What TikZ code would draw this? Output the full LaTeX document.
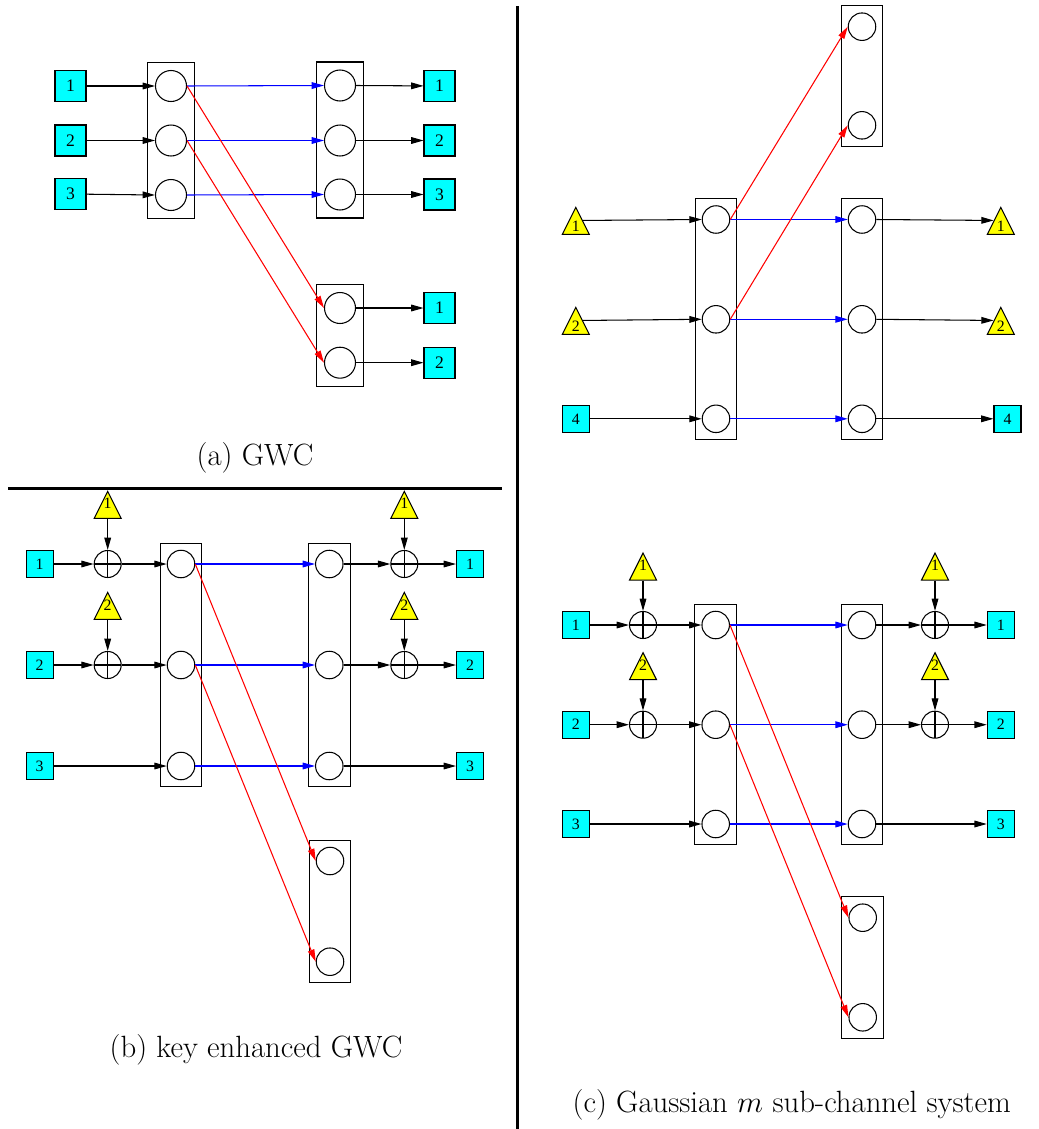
\documentclass[tikz,border=0pt]{standalone}
\usepackage{fontspec}
\newfontfamily\timesfont{Liberation Serif}
\usepackage{tikz}
\usetikzlibrary{shapes.geometric, arrows.meta, positioning, fit}

\definecolor{symcyan}{RGB}{0,255,255}
\definecolor{keyyellow}{RGB}{255,255,0}

\tikzset{
  symA/.style={draw, fill=symcyan, minimum size=0.62cm, inner sep=0pt, font=\timesfont\fontsize{10}{10}\selectfont},
  sym/.style={draw, fill=symcyan, minimum size=0.54cm, inner sep=0pt, font=\timesfont\fontsize{9}{9}\selectfont},
  subA/.style={circle, draw, minimum size=0.62cm, inner sep=0pt},
  sub/.style={circle, draw, minimum size=0.55cm, inner sep=0pt},
  keyadd/.style={circle, draw, minimum size=0.54cm, inner sep=0pt,
    path picture={\draw (path picture bounding box.north) -- (path picture bounding box.south)
      (path picture bounding box.west) -- (path picture bounding box.east);}},
  keytri/.style={isosceles triangle, isosceles triangle stretches, shape border rotate=90,
    draw, fill=keyyellow, minimum width=0.54cm, minimum height=0.54cm, inner sep=0pt, anchor=apex,
    label={[anchor=north, inner sep=0pt, yshift=-0.16cm, font=\timesfont\fontsize{9}{9}\selectfont]90:#1}},
  keytrilow/.style={keytri=, label={[anchor=north, inner sep=0pt, yshift=-0.30cm, font=\timesfont\fontsize{9}{9}\selectfont]90:#1}},
  chanbox/.style={draw, inner sep=0.13cm},
  arr/.style={-{Triangle[length=7pt, width=3.8pt]}},
  mainarr/.style={arr, blue},
  leakarr/.style={arr, red},
  caption/.style={font=\fontsize{17.5}{21}\selectfont}
}

\begin{document}
\begin{tikzpicture}[x=0.02cm, y=-0.02cm, line width=0.6pt]
  \useasboundingbox (0,0) rectangle (1038,1129);

  % (a) GWC
  \node[symA] (aIn1) at (70.5,86) {1};
  \node[symA] (aIn2) at (70.5,140.5) {2};
  \node[symA] (aIn3) at (70.5,194) {3};
  \node[subA] (aL1) at (171,86) {};
  \node[subA] (aL2) at (171,140.5) {};
  \node[subA] (aL3) at (171,195) {};
  \node[subA] (aR1) at (340,85.5) {};
  \node[subA] (aR2) at (340,140.5) {};
  \node[subA] (aR3) at (340,194.5) {};
  \node[subA] (aE1) at (340,308) {};
  \node[subA] (aE2) at (340,362.7) {};
  \node[symA] (aOut1) at (439.5,86) {1};
  \node[symA] (aOut2) at (439.5,140.5) {2};
  \node[symA] (aOut3) at (439.5,194.5) {3};
  \node[symA] (aOutE1) at (439.5,308) {1};
  \node[symA] (aOutE2) at (439.5,362.7) {2};
  \node[chanbox, inner sep=0.15cm, fit=(aL1)(aL3)] (aBoxL) {};
  \node[chanbox, inner sep=0.15cm, fit=(aR1)(aR3)] (aBoxR) {};
  \node[chanbox, inner sep=0.15cm, fit=(aE1)(aE2)] (aBoxE) {};
  \draw[arr] (aIn1) -- (aL1.west);
  \draw[arr] (aIn2) -- (aL2.west);
  \draw[arr] (aIn3) -- (aL3.west);
  \draw[mainarr] (aL1.east) -- (aR1.west);
  \draw[mainarr] (aL2.east) -- (aR2.west);
  \draw[mainarr] (aL3.east) -- (aR3.west);
  \draw[leakarr] (aL1.east) -- (aE1.west);
  \draw[leakarr] (aL2.east) -- (aE2.west);
  \draw[arr] (aR1.east) -- (aOut1);
  \draw[arr] (aR2.east) -- (aOut2);
  \draw[arr] (aR3.east) -- (aOut3);
  \draw[arr] (aE1.east) -- (aOutE1);
  \draw[arr] (aE2.east) -- (aOutE2);
  \node[caption] (capA) at (255,458) {(a) GWC};

  \draw[line width=1.15pt] (8,488.5) -- (502,488.5);
  \draw[line width=1.15pt] (517.5,6) -- (517.5,1129);

  % (b) key enhanced GWC
  \node[sym] (bIn1) at (39.7,564) {1};
  \node[sym] (bIn2) at (39.7,665) {2};
  \node[sym] (bIn3) at (39.7,766) {3};
  \node[keyadd] (bXl1) at (107.7,564) {};
  \node[keyadd] (bXl2) at (107.7,665) {};
  \node[keytri=1] (bKl1) at (107.7,490) {};
  \node[keytri=2] (bKl2) at (107.7,591) {};
  \node[sub] (bL1) at (181,564) {};
  \node[sub] (bL2) at (181,665) {};
  \node[sub] (bL3) at (181,766) {};
  \node[sub] (bR1) at (329.3,564) {};
  \node[sub] (bR2) at (329.3,665) {};
  \node[sub] (bR3) at (329.3,766) {};
  \node[keyadd] (bXr1) at (404.3,564) {};
  \node[keyadd] (bXr2) at (404.3,665) {};
  \node[keytri=1] (bKr1) at (404.3,490) {};
  \node[keytri=2] (bKr2) at (404.3,591) {};
  \node[sym] (bOut1) at (470,564) {1};
  \node[sym] (bOut2) at (470,665) {2};
  \node[sym] (bOut3) at (470,766) {3};
  \node[sub] (bE1) at (330,861) {};
  \node[sub] (bE2) at (330,961.7) {};
  \node[chanbox, fit=(bL1)(bL3)] (bBoxL) {};
  \node[chanbox, fit=(bR1)(bR3)] (bBoxR) {};
  \node[chanbox, fit=(bE1)(bE2)] (bBoxE) {};
  \draw[arr] (bIn1) -- (bXl1);
  \draw[arr] (bIn2) -- (bXl2);
  \draw[arr] (bKl1) -- (bXl1);
  \draw[arr] (bKl2) -- (bXl2);
  \draw[arr] (bXl1) -- (bL1.west);
  \draw[arr] (bXl2) -- (bL2.west);
  \draw[arr] (bIn3) -- (bL3.west);
  \draw[mainarr] (bL1.east) -- (bR1.west);
  \draw[mainarr] (bL2.east) -- (bR2.west);
  \draw[mainarr] (bL3.east) -- (bR3.west);
  \draw[leakarr] (bL1.east) -- (bE1.west);
  \draw[leakarr] (bL2.east) -- (bE2.west);
  \draw[arr] (bR1.east) -- (bXr1);
  \draw[arr] (bR2.east) -- (bXr2);
  \draw[arr] (bKr1) -- (bXr1);
  \draw[arr] (bKr2) -- (bXr2);
  \draw[arr] (bXr1) -- (bOut1);
  \draw[arr] (bXr2) -- (bOut2);
  \draw[arr] (bR3.east) -- (bOut3);
  \node[caption] (capB) at (256,1050) {(b) key enhanced GWC};

  % (c) Gaussian sub-channels, upper part
  \node[keytrilow=1] (cIn1) at (575.8,206) {};
  \node[keytrilow=2] (cIn2) at (575.8,306) {};
  \node[sym] (cIn3) at (575.8,418.8) {4};
  \node[sub] (cL1) at (716,219.5) {};
  \node[sub] (cL2) at (716,319.3) {};
  \node[sub] (cL3) at (716,418.8) {};
  \node[sub] (cR1) at (862,219.5) {};
  \node[sub] (cR2) at (862,319.3) {};
  \node[sub] (cR3) at (862,418.8) {};
  \node[sub] (cE1) at (862,26.7) {};
  \node[sub] (cE2) at (862,125.3) {};
  \node[keytrilow=1] (cOut1) at (1000.8,206) {};
  \node[keytrilow=2] (cOut2) at (1000.8,306) {};
  \node[sym] (cOut3) at (1007.5,418.8) {4};
  \node[chanbox, fit=(cL1)(cL3)] (cBoxL) {};
  \node[chanbox, fit=(cR1)(cR3)] (cBoxR) {};
  \node[chanbox, fit=(cE1)(cE2)] (cBoxE) {};
  \draw[arr] (cIn1.right side) -- (cL1.west);
  \draw[arr] (cIn2.right side) -- (cL2.west);
  \draw[arr] (cIn3) -- (cL3.west);
  \draw[mainarr] (cL1.east) -- (cR1.west);
  \draw[mainarr] (cL2.east) -- (cR2.west);
  \draw[mainarr] (cL3.east) -- (cR3.west);
  \draw[leakarr] (cL1.east) -- (cE1.west);
  \draw[leakarr] (cL2.east) -- (cE2.west);
  \draw[arr] (cR1.east) -- (cOut1.left side);
  \draw[arr] (cR2.east) -- (cOut2.left side);
  \draw[arr] (cR3.east) -- (cOut3);

  % (c) Gaussian sub-channels, lower part
  \node[sym] (dIn1) at (575.8,625) {1};
  \node[sym] (dIn2) at (575.8,724.7) {2};
  \node[sym] (dIn3) at (575.8,824) {3};
  \node[keyadd] (dXl1) at (643,625) {};
  \node[keyadd] (dXl2) at (643,724.7) {};
  \node[keytri=1] (dKl1) at (643,551.7) {};
  \node[keytri=2] (dKl2) at (643,651.3) {};
  \node[sub] (dL1) at (715.7,625) {};
  \node[sub] (dL2) at (715.7,724.7) {};
  \node[sub] (dL3) at (715.7,824) {};
  \node[sub] (dR1) at (862,625) {};
  \node[sub] (dR2) at (862,724.7) {};
  \node[sub] (dR3) at (862,824) {};
  \node[keyadd] (dXr1) at (935,625) {};
  \node[keyadd] (dXr2) at (935,724.7) {};
  \node[keytri=1] (dKr1) at (935,551.7) {};
  \node[keytri=2] (dKr2) at (935,651.3) {};
  \node[sym] (dOut1) at (1000.8,625) {1};
  \node[sym] (dOut2) at (1000.8,724.7) {2};
  \node[sym] (dOut3) at (1000.8,824) {3};
  \node[sub] (dE1) at (862.7,917.7) {};
  \node[sub] (dE2) at (862.7,1017.3) {};
  \node[chanbox, fit=(dL1)(dL3)] (dBoxL) {};
  \node[chanbox, fit=(dR1)(dR3)] (dBoxR) {};
  \node[chanbox, fit=(dE1)(dE2)] (dBoxE) {};
  \draw[arr] (dIn1) -- (dXl1);
  \draw[arr] (dIn2) -- (dXl2);
  \draw[arr] (dKl1) -- (dXl1);
  \draw[arr] (dKl2) -- (dXl2);
  \draw[arr] (dXl1) -- (dL1.west);
  \draw[arr] (dXl2) -- (dL2.west);
  \draw[arr] (dIn3) -- (dL3.west);
  \draw[mainarr] (dL1.east) -- (dR1.west);
  \draw[mainarr] (dL2.east) -- (dR2.west);
  \draw[mainarr] (dL3.east) -- (dR3.west);
  \draw[leakarr] (dL1.east) -- (dE1.west);
  \draw[leakarr] (dL2.east) -- (dE2.west);
  \draw[arr] (dR1.east) -- (dXr1);
  \draw[arr] (dR2.east) -- (dXr2);
  \draw[arr] (dKr1) -- (dXr1);
  \draw[arr] (dKr2) -- (dXr2);
  \draw[arr] (dXr1) -- (dOut1);
  \draw[arr] (dXr2) -- (dOut2);
  \draw[arr] (dR3.east) -- (dOut3);
  \node[caption] (capC) at (791.7,1105) {(c) Gaussian $m$ sub-channel system};
\end{tikzpicture}
\end{document}
